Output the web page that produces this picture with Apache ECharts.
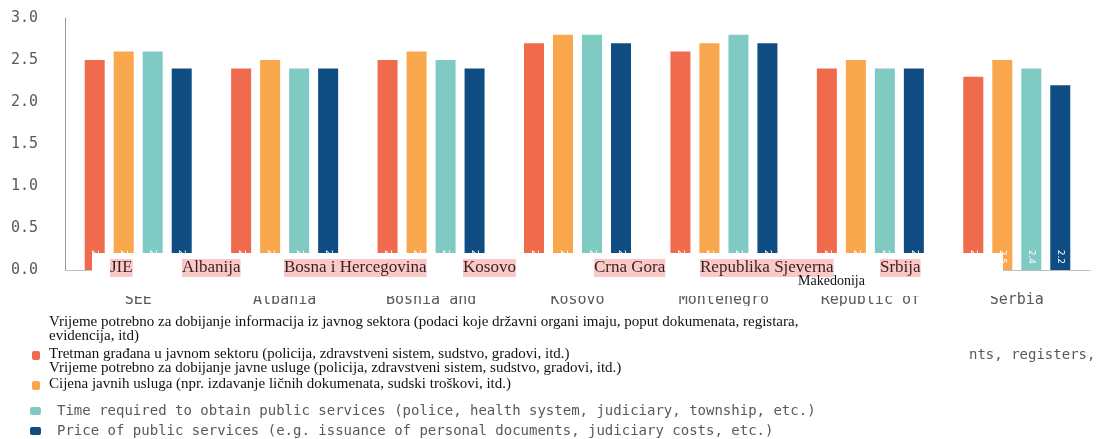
<!DOCTYPE html>
<html>
<head>
<meta charset="utf-8">
<script src="https://cdn.jsdelivr.net/npm/echarts@6/dist/echarts.min.js"></script>
<style>
  html, body { margin: 0; padding: 0; background: #fff; }
  #chart { width: 1098px; height: 439px; }
</style>
</head>
<body>
<div id="chart"></div>
<script>
// categories (english axis) and overlaid local names
var categories = ['SEE', 'Albania', 'Bosnia and\nHerzegovina', 'Kosovo', 'Montenegro', 'Republic of\nNorth Macedonia', 'Serbia']
var localNames = ['JIE', 'Albanija', 'Bosna i Hercegovina', 'Kosovo', 'Crna Gora', 'Republika Sjeverna', 'Srbija']

var seriesNames = [
  'Time required to obtain information from the public sector (data held by public authorities, such as documents, registers, records, etc.)',
  'Treatment of citizens in the public sector (police, health system, judiciary, township, etc.)',
  'Time required to obtain public services (police, health system, judiciary, township, etc.)',
  'Price of public services (e.g. issuance of personal documents, judiciary costs, etc.)'
]
var infoTime = [2.5, 2.4, 2.5, 2.7, 2.6, 2.4, 2.3]
var treatment = [2.6, 2.5, 2.6, 2.8, 2.7, 2.5, 2.5]
var serviceTime = [2.6, 2.4, 2.5, 2.8, 2.8, 2.4, 2.4]
var servicePrice = [2.4, 2.4, 2.4, 2.7, 2.7, 2.4, 2.2]

var localLegend = [
  'Vrijeme potrebno za dobijanje informacija iz javnog sektora (podaci koje državni organi imaju, poput dokumenata, registara,',
  'evidencija, itd)',
  'Tretman građana u javnom sektoru (policija, zdravstveni sistem, sudstvo, gradovi, itd.)',
  'Vrijeme potrebno za dobijanje javne usluge (policija, zdravstveni sistem, sudstvo, gradovi, itd.)',
  'Cijena javnih usluga (npr. izdavanje ličnih dokumenata, sudski troškovi, itd.)'
]

var colors = ['#F06A4E', '#F9A74C', '#7FCBC3', '#0F4C81']
var values = [infoTime, treatment, serviceTime, servicePrice]

var chart = echarts.init(document.getElementById('chart'))

var series = values.map(function(v, i) {
  return {
    name: seriesNames[i],
    type: 'bar',
    barWidth: 20,
    barGap: '45%',
    itemStyle: { color: colors[i] },
    label: {
      show: true,
      position: 'insideBottom',
      rotate: -90,
      align: 'right',
      verticalAlign: 'middle',
      distance: 6,
      color: '#fff',
      fontSize: 9,
      fontFamily: 'DejaVu Sans',
      formatter: function(p) { return p.value.toFixed(1) }
    },
    data: v
  }
})

var legendTops = [346, 376, 399, 419]
var legends = seriesNames.map(function(n, i) {
  return {
    data: [n],
    orient: 'vertical',
    left: i < 2 ? 27 : 25,
    top: legendTops[i],
    icon: 'roundRect',
    itemWidth: i < 2 ? 8 : 11,
    itemHeight: i < 2 ? 9 : 8,
    selectedMode: false,
    formatter: i < 2 ? function() { return '' } : '{name}',
    textStyle: { color: '#595959', fontFamily: 'DejaVu Sans Mono', fontSize: 14, padding: [0, 0, 0, 11] }
  }
})

var pinkPos = [[110, 268], [182, 268], [284, 268], [463, 268], [594, 268], [700, 268], [880, 268]]
var graphics = [
  { type: 'rect', z: 100, shape: { x: 92, y: 253, width: 911, height: 43 }, style: { fill: '#fff' } },
  { type: 'rect', z: 100, shape: { x: 40, y: 306, width: 1058, height: 36 }, style: { fill: '#fff' } }
]
localNames.forEach(function(n, i) {
  graphics.push({
    type: 'text', z: 101, x: pinkPos[i][0], y: pinkPos[i][1],
    style: {
      text: n, fill: '#3b1f1f', font: '17px "Liberation Serif"',
      backgroundColor: '#F8C9C7', padding: [1, 0, 0, 0], verticalAlign: 'middle'
    }
  })
})
graphics.push({
  type: 'text', z: 101, x: 798, y: 281,
  style: { text: 'Makedonija', fill: '#111', font: '14px "Liberation Serif"', verticalAlign: 'middle' }
})
var legendY = [322, 336, 354, 368, 384]
localLegend.forEach(function(t, i) {
  graphics.push({
    type: 'text', z: 101, x: 49, y: legendY[i],
    style: { text: t, fill: '#111', font: '15px "Liberation Serif"', verticalAlign: 'middle' }
  })
})
graphics.push({
  type: 'text', z: 101, x: 969, y: 355,
  style: { text: 'nts, registers,', fill: '#595959', font: '14px "DejaVu Sans Mono"', verticalAlign: 'middle' }
})

var option = {
  animation: false,
  backgroundColor: '#fff',
  color: colors,
  grid: { left: 65, right: 8, top: 18, bottom: 169, containLabel: false },
  legend: legends,
  xAxis: {
    type: 'category',
    data: categories,
    axisLine: { lineStyle: { color: '#bfbfbf' } },
    axisTick: { show: false },
    axisLabel: { color: '#595959', fontFamily: 'DejaVu Sans Mono', fontSize: 15, margin: 23, interval: 0 }
  },
  yAxis: {
    type: 'value',
    min: 0,
    max: 3,
    interval: 0.5,
    axisLine: { show: true, lineStyle: { color: '#9a9a9a' } },
    splitLine: { show: false },
    axisLabel: {
      color: '#595959', fontFamily: 'DejaVu Sans Mono', fontSize: 15, margin: 27,
      formatter: function(v) { return v.toFixed(1) }
    }
  },
  series: series,
  graphic: graphics
}
chart.setOption(option)
window.addEventListener('resize', function() {
  chart.resize()
})
</script>
</body>
</html>
